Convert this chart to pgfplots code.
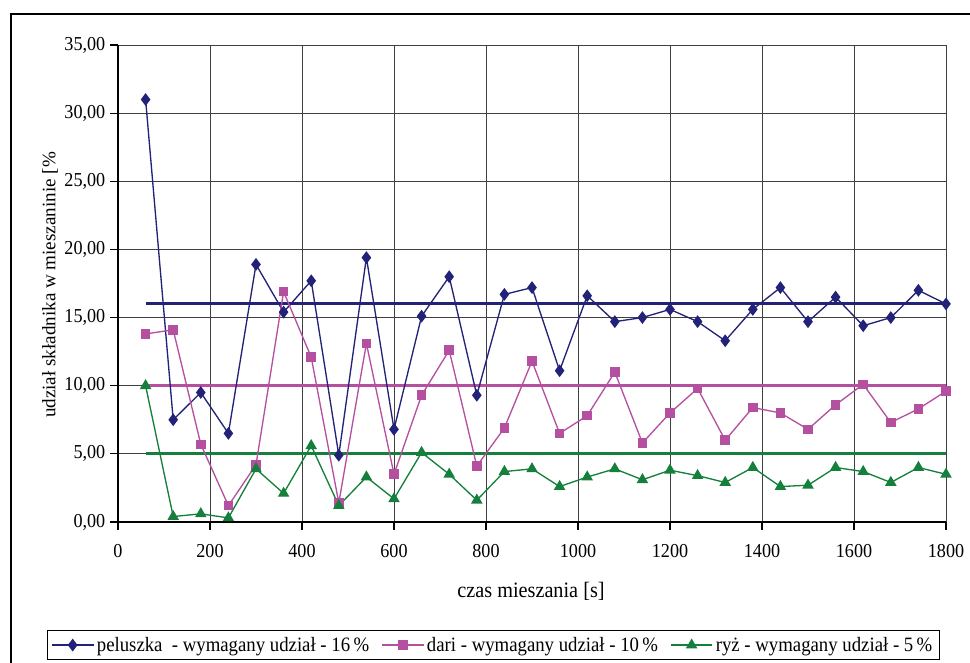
\documentclass[border=0pt]{standalone}
\usepackage{fontspec}
\setmainfont{Liberation Serif}[FakeStretch=0.92]
\newfontfamily\ylabfont{Liberation Serif}
\usepackage{pgfplots}
\pgfplotsset{compat=1.18}
\definecolor{cblue}{RGB}{34,34,120}
\definecolor{cpink}{RGB}{181,80,160}
\definecolor{cgreen}{RGB}{20,128,60}
\begin{document}
\begin{tikzpicture}
\useasboundingbox (0,0) rectangle (727.5pt,497.25pt);
\draw[black, line width=1pt] (8.25pt,-10pt) rectangle (740pt,486.75pt);
\begin{axis}[
  at={(88.5pt,105.75pt)}, anchor=south west,
  scale only axis, width=621pt, height=357.75pt,
  xmin=0, xmax=1800, ymin=0, ymax=35,
  xtick={0,200,...,1800}, ytick={0,5,...,35},
  grid=major, major grid style={black!75, line width=0.6pt},
  axis x line*=bottom, axis y line*=left,
  axis line style={black, line width=0.8pt},
  tick align=outside, major tick length=6pt,
  tick style={black, line width=0.8pt},
  /pgf/number format/assume math mode=true,
  yticklabel style={/pgf/number format/.cd, fixed, fixed zerofill, precision=2, use comma, 1000 sep={}},
  xticklabel style={yshift=-7pt, /pgf/number format/.cd, fixed, 1000 sep={}},
  ticklabel style={font=\fontsize{14.8}{16}\selectfont},
  scaled ticks=false,
  legend columns=3,
  legend style={at={(0.453,-0.258)}, anchor=center, draw=black, line width=0.8pt,
    font=\fontsize{15.3}{17}\selectfont, inner sep=3pt,
    /tikz/every even column/.append style={column sep=7pt}},
  legend cell align=left,
  legend image code/.code={\draw[mark repeat=2,mark phase=2] plot coordinates {(0cm,0cm)(0.55cm,0cm)(1.1cm,0cm)};},
]
% reference lines
\addplot[cblue, line width=2.2pt, forget plot] coordinates {(60,16) (1800,16)};
\addplot[cpink, line width=2.2pt, forget plot] coordinates {(60,10) (1800,10)};
\addplot[cgreen, line width=2.2pt, forget plot] coordinates {(60,5) (1800,5)};
% data
\addplot[cblue, line width=1pt, mark=diamond*, mark size=4pt, mark options={solid, fill=cblue}] coordinates {
(60,31.0) (120,7.5) (180,9.5) (240,6.5) (300,18.9) (360,15.4) (420,17.7) (480,4.9) (540,19.4) (600,6.8)
(660,15.1) (720,18.0) (780,9.3) (840,16.7) (900,17.2) (960,11.1) (1020,16.6) (1080,14.7) (1140,15.0) (1200,15.6)
(1260,14.7) (1320,13.3) (1380,15.6) (1440,17.2) (1500,14.7) (1560,16.5) (1620,14.4) (1680,15.0) (1740,17.0) (1800,16.0)};
\addlegendentry{peluszka\ \ - wymagany udział - 16\,\%}
\addplot[cpink, line width=1pt, mark=square*, mark size=3.1pt, mark options={solid, fill=cpink}] coordinates {
(60,13.8) (120,14.1) (180,5.7) (240,1.2) (300,4.2) (360,16.9) (420,12.1) (480,1.4) (540,13.1) (600,3.5)
(660,9.3) (720,12.6) (780,4.1) (840,6.9) (900,11.8) (960,6.5) (1020,7.8) (1080,11.0) (1140,5.8) (1200,8.0)
(1260,9.8) (1320,6.0) (1380,8.4) (1440,8.0) (1500,6.8) (1560,8.6) (1620,10.1) (1680,7.3) (1740,8.3) (1800,9.6)};
\addlegendentry{dari - wymagany udział - 10\,\%}
\addplot[cgreen, line width=1pt, mark=triangle*, mark size=4pt, mark options={solid, fill=cgreen}] coordinates {
(60,10.0) (120,0.4) (180,0.6) (240,0.3) (300,3.9) (360,2.1) (420,5.6) (480,1.2) (540,3.3) (600,1.7)
(660,5.1) (720,3.5) (780,1.6) (840,3.7) (900,3.9) (960,2.6) (1020,3.3) (1080,3.9) (1140,3.1) (1200,3.8)
(1260,3.4) (1320,2.9) (1380,4.0) (1440,2.6) (1500,2.7) (1560,4.0) (1620,3.7) (1680,2.9) (1740,4.0) (1800,3.5)};
\addlegendentry{ryż - wymagany udział - 5\,\%}
\end{axis}
\node[rotate=90, font=\ylabfont\fontsize{14.3}{16}\selectfont] at (37.5pt,283.5pt) {udział składnika w mieszaninie [\%};
\node[font=\fontsize{16.5}{18}\selectfont] at (398.25pt,54pt) {czas mieszania [s]};
\end{tikzpicture}
\end{document}
